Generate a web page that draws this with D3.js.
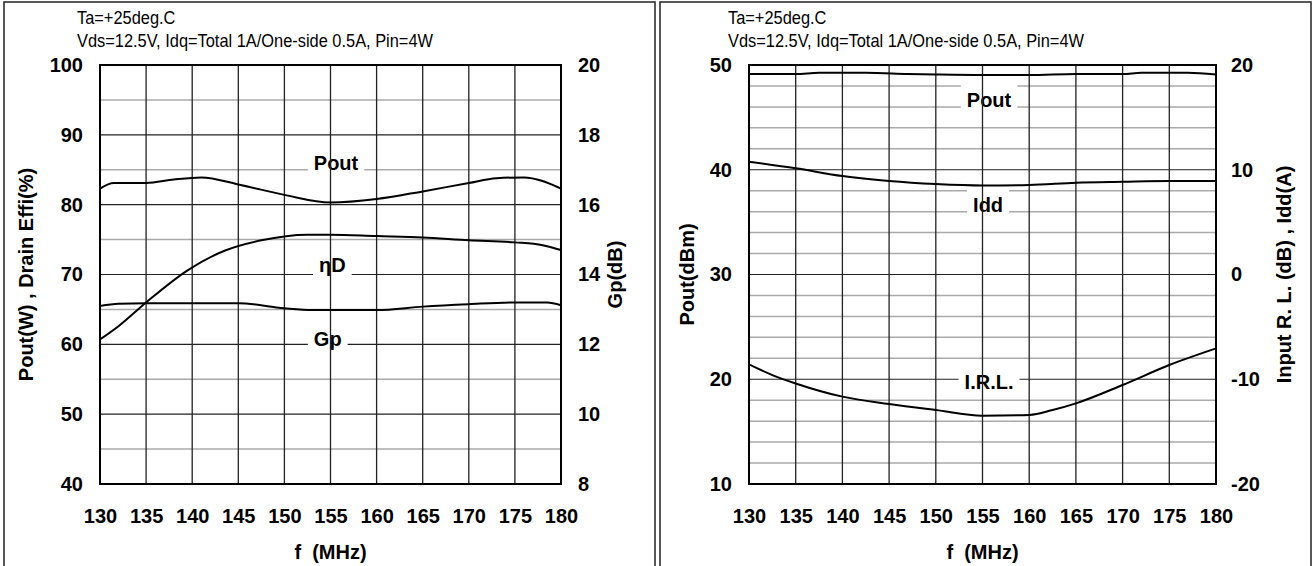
<!DOCTYPE html>
<html>
<head>
<meta charset="utf-8">
<script src="https://cdn.jsdelivr.net/npm/d3@7"></script>
<style>
  body { margin: 0; background: #fff; }
  svg { display: block; font-family: "Liberation Sans", Arial, sans-serif; }
</style>
</head>
<body>
<svg width="1316" height="566"></svg>
<script>
const headerLines = ["Ta=+25deg.C", "Vds=12.5V, Idq=Total 1A/One-side 0.5A, Pin=4W"];
const freqTicks = [130, 135, 140, 145, 150, 155, 160, 165, 170, 175, 180];

// left chart: Pout(W) and drain efficiency on the left axis, Gp(dB) on the right axis
const poutW = [[130, 82.3], [131.5, 83.1], [135, 83.1], [138, 83.6], [141, 83.9], [145, 82.9], [150, 81.4],
  [155, 80.3], [160, 80.8], [165, 81.9], [170, 83.1], [173, 83.8], [176, 83.9], [178, 83.4], [180, 82.3]];
const drainEff = [[130, 60.7], [132, 62.6], [135, 66.0], [139.5, 70.6], [143.5, 73.4], [147.5, 74.9],
  [152.5, 75.7], [155, 75.7], [160, 75.5], [165, 75.3], [170, 74.9], [175, 74.6], [178, 74.2], [180, 73.5]];
const gainDb = [[130, 13.1], [132, 13.16], [135, 13.18], [145, 13.18], [150, 13.03], [153, 12.98],
  [160, 12.98], [165, 13.08], [170, 13.15], [175, 13.2], [178.5, 13.2], [180, 13.12]];

// right chart: Pout(dBm) on the left axis, I.R.L.(dB) and Idd(A) on the right axis
const poutDbm = [[130, 49.15], [135, 49.15], [137.5, 49.25], [142.5, 49.25], [147, 49.15], [150, 49.1],
  [155, 49.05], [160, 49.05], [165, 49.15], [170, 49.15], [172, 49.25], [177, 49.25], [180, 49.1]];
const iddA = [[130, 10.77], [135, 10.14], [140, 9.4], [145, 8.93], [150, 8.64], [155, 8.5],
  [160, 8.55], [165, 8.77], [170, 8.86], [175, 8.93], [180, 8.93]];
const irlDb = [[130, -8.58], [132.5, -9.6], [135, -10.4], [140, -11.66], [145, -12.36], [150, -12.94],
  [155, -13.48], [160, -13.41], [162.5, -12.94], [165, -12.3], [170, -10.55], [175, -8.64], [180, -7.05]];

const svg = d3.select("svg");

function drawPanel(cfg) {
  const g = svg.append("g");
  const x = d3.scaleLinear().domain([130, 180]).range([cfg.l, cfg.r]);
  const yL = d3.scaleLinear().domain(cfg.leftDomain).range([cfg.b, cfg.t]);
  const yR = d3.scaleLinear().domain(cfg.rightDomain).range([cfg.b, cfg.t]);

  // panel frame
  g.append("rect")
    .attr("x", cfg.x0).attr("y", 2)
    .attr("width", cfg.x1 - cfg.x0).attr("height", 600)
    .attr("fill", "none").attr("stroke", "#222").attr("stroke-width", 1.5);

  headerLines.forEach((t, i) => {
    g.append("text")
      .attr("transform", `translate(${cfg.headerX},${24 + i * 23}) scale(1,1.15)`)
      .style("font-size", "16.4px")
      .text(t);
  });

  // horizontal grid
  const [lo, hi] = cfg.leftDomain;
  g.append("g").selectAll("line")
    .data(d3.range(lo + cfg.minorStep, hi, cfg.minorStep))
    .join("line")
    .attr("x1", cfg.l).attr("x2", cfg.r)
    .attr("y1", d => yL(d)).attr("y2", d => yL(d))
    .attr("stroke", d => Math.abs(d % 10) < 1e-6 ? "#222" : "#aaa")
    .attr("stroke-width", d => Math.abs(d % 10) < 1e-6 ? 1.2 : 1.5);

  // white boxes behind the curve labels
  const labelG = g.append("g");
  const boxes = labelG.selectAll("rect").data(cfg.labels).join("rect").attr("fill", "#fff");

  // vertical grid
  g.append("g").selectAll("line")
    .data(freqTicks.slice(1, -1))
    .join("line")
    .attr("x1", d => x(d)).attr("x2", d => x(d))
    .attr("y1", cfg.t).attr("y2", cfg.b)
    .attr("stroke", "#222").attr("stroke-width", 1.3);

  g.append("rect")
    .attr("x", cfg.l).attr("y", cfg.t)
    .attr("width", cfg.r - cfg.l).attr("height", cfg.b - cfg.t)
    .attr("fill", "none").attr("stroke", "#000").attr("stroke-width", 2);

  // axes (plain hyphen for negatives, like the original)
  const fmt = d => String(d);
  const tickFont = sel => sel.selectAll("text").style("font-size", "20px").style("font-weight", "bold").attr("fill", "#000");
  g.append("g")
    .attr("transform", `translate(${cfg.l},0)`)
    .call(d3.axisLeft(yL).tickValues(d3.range(lo, hi + 1, 10)).tickFormat(fmt).tickSize(0).tickPadding(17))
    .call(a => a.select(".domain").remove())
    .call(tickFont);
  g.append("g")
    .attr("transform", `translate(${cfg.r},0)`)
    .call(d3.axisRight(yR).tickValues(d3.range(cfg.rightDomain[0], cfg.rightDomain[1] + 0.1, cfg.rightStep))
      .tickFormat(fmt).tickSize(0).tickPadding(cfg.rightPad))
    .call(a => a.select(".domain").remove())
    .call(tickFont);
  g.append("g")
    .attr("transform", `translate(0,${cfg.b})`)
    .call(d3.axisBottom(x).tickValues(freqTicks).tickFormat(fmt).tickSize(0).tickPadding(25))
    .call(a => a.select(".domain").remove())
    .call(tickFont);

  // axis titles
  const title = (tx, ty, rot, t) => g.append("text")
    .attr("transform", `translate(${tx},${ty}) rotate(${rot})`)
    .attr("text-anchor", "middle")
    .style("font-size", "20px").style("font-weight", "bold").style("white-space", "pre")
    .text(t);
  const midY = (cfg.t + cfg.b) / 2;
  title((cfg.l + cfg.r) / 2, 559, 0, "f  (MHz)");
  title(cfg.leftTitleX, midY, -90, cfg.leftTitle);
  title(cfg.rightTitleX, midY, -90, cfg.rightTitle);

  // curves
  const line = y => d3.line().x(d => x(d[0])).y(d => y(d[1])).curve(d3.curveMonotoneX);
  cfg.series.forEach(s => {
    g.append("path")
      .datum(s.data)
      .attr("d", line(s.axis === "left" ? yL : yR))
      .attr("fill", "none").attr("stroke", "#000").attr("stroke-width", 2);
  });

  // curve labels
  const texts = labelG.selectAll("text").data(cfg.labels).join("text")
    .attr("x", d => x(d.f)).attr("y", d => yL(d.v))
    .attr("text-anchor", "middle")
    .style("font-size", "20px").style("font-weight", "bold")
    .text(d => d.name);
  const widths = texts.nodes().map(n => n.getComputedTextLength());
  boxes
    .attr("x", (d, i) => x(d.f) - widths[i] / 2 - 6)
    .attr("y", d => yL(d.v) - 22.5)
    .attr("width", (d, i) => widths[i] + 12)
    .attr("height", 26);
}

drawPanel({
  x0: 4, x1: 655, headerX: 77,
  l: 100, r: 561, t: 65, b: 484,
  leftDomain: [40, 100], rightDomain: [8, 20], minorStep: 5, rightStep: 2, rightPad: 17,
  leftTitle: "Pout(W) , Drain Effi(%)", leftTitleX: 33,
  rightTitle: "Gp(dB)", rightTitleX: 622,
  series: [
    { data: poutW, axis: "left" },
    { data: drainEff, axis: "left" },
    { data: gainDb, axis: "right" }
  ],
  labels: [
    { name: "Pout", f: 155.6, v: 85 },
    { name: "ηD", f: 155.2, v: 70.4 },
    { name: "Gp", f: 154.7, v: 59.8 }
  ]
});

drawPanel({
  x0: 660, x1: 1311, headerX: 728,
  l: 749, r: 1216, t: 65, b: 484,
  leftDomain: [10, 50], rightDomain: [-20, 20], minorStep: 2, rightStep: 10, rightPad: 15,
  leftTitle: "Pout(dBm)", leftTitleX: 694,
  rightTitle: "Input R. L. (dB) , Idd(A)", rightTitleX: 1291,
  series: [
    { data: poutDbm, axis: "left" },
    { data: iddA, axis: "right" },
    { data: irlDb, axis: "right" }
  ],
  labels: [
    { name: "Pout", f: 155.7, v: 46.0 },
    { name: "Idd", f: 155.6, v: 36.0 },
    { name: "I.R.L.", f: 155.7, v: 19.07 }
  ]
});
</script>
</body>
</html>
